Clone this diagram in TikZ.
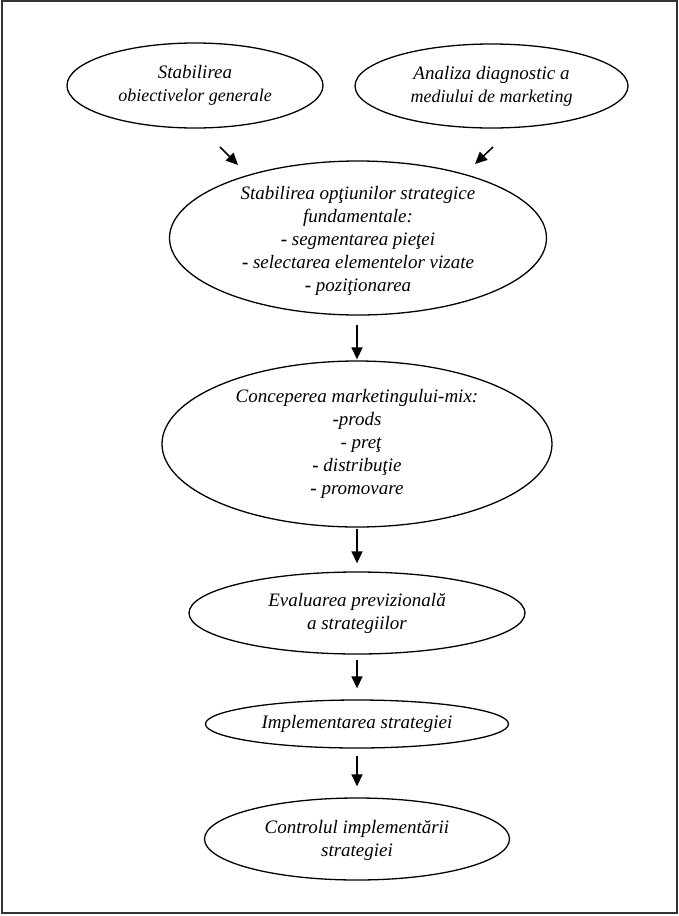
\documentclass[tikz,border=0pt]{standalone}
\usepackage{fontspec}
\setmainfont{Liberation Serif}
\usetikzlibrary{shapes.geometric,arrows.meta}
\newcommand{\bdash}{\textup{\textbf{-}}}
\begin{document}
\begin{tikzpicture}[x=1pt,y=-1pt,
  oval/.style={draw, ellipse, line width=1.3pt, inner sep=0pt},
  lbl/.style={align=center, font=\fontsize{19}{23}\selectfont\itshape, inner sep=0pt},
  arr/.style={line width=1.5pt, -{Triangle[length=12pt,width=11pt]}}]
\useasboundingbox (0,0) rectangle (679,916);
\draw[line width=2pt, black!80] (2,1) rectangle (677,913);
% ellipses
\node[oval, minimum width=256pt, minimum height=85pt] (e1) at (195,85.5) {};
\node[oval, minimum width=273pt, minimum height=84pt] (e2) at (491.5,86) {};
\node[oval, minimum width=377pt, minimum height=154pt] (e3) at (358,238) {};
\node[oval, minimum width=390pt, minimum height=166pt] (e4) at (357,444) {};
\node[oval, minimum width=336pt, minimum height=82pt] (e5) at (357,613) {};
\node[oval, minimum width=303pt, minimum height=48pt] (e6) at (357,724) {};
\node[oval, minimum width=305pt, minimum height=82pt] (e7) at (357,839) {};
% texts
\node[lbl] (t1) at (e1.center) {Stabilirea\\{\fontsize{18}{23}\selectfont obiectivelor generale}};
\node[lbl] (t2) at (e2.center) {Analiza diagnostic a\\{\fontsize{18}{23}\selectfont mediului de marketing}};
\node[lbl] (t3) at ([yshift=-3pt]e3.center) {Stabilirea opţiunilor strategice\\fundamentale:\\\bdash{} segmentarea pieţei\\\bdash{} selectarea elementelor vizate\\\bdash{} poziţionarea};
\node[lbl] (t4) at (e4.center) {Conceperea marketingului-mix:\\\bdash{}prods\\\hspace*{8pt}- preţ\\\bdash{} distribuţie\\\bdash{} promovare};
\node[lbl] (t5) at (e5.center) {Evaluarea previzională\\a strategiilor};
\node[lbl] (t6) at (e6.center) {Implementarea strategiei};
\node[lbl] (t7) at ([yshift=-1pt]e7.center) {Controlul implementării\\strategiei};
% arrows
\coordinate (a1s) at (220,147);
\coordinate (a1e) at (238,165);
\coordinate (a2s) at (493,147);
\coordinate (a2e) at (475,164);
\draw[arr] (a1s) -- (a1e);
\draw[arr] (a2s) -- (a2e);
\draw[arr, shorten >=1pt] (e3.south -| e4.north) ++(0,9) -- (e4.north);
\draw[arr, shorten >=8pt] (e4.south -| e5.north) ++(0,1) -- (e5.north);
\draw[arr, shorten >=11pt] (e5.south -| e6.north) ++(0,5) -- (e6.north);
\draw[arr, shorten >=11pt] (e6.south -| e7.north) ++(0,7) -- (e7.north);
\end{tikzpicture}
\end{document}
